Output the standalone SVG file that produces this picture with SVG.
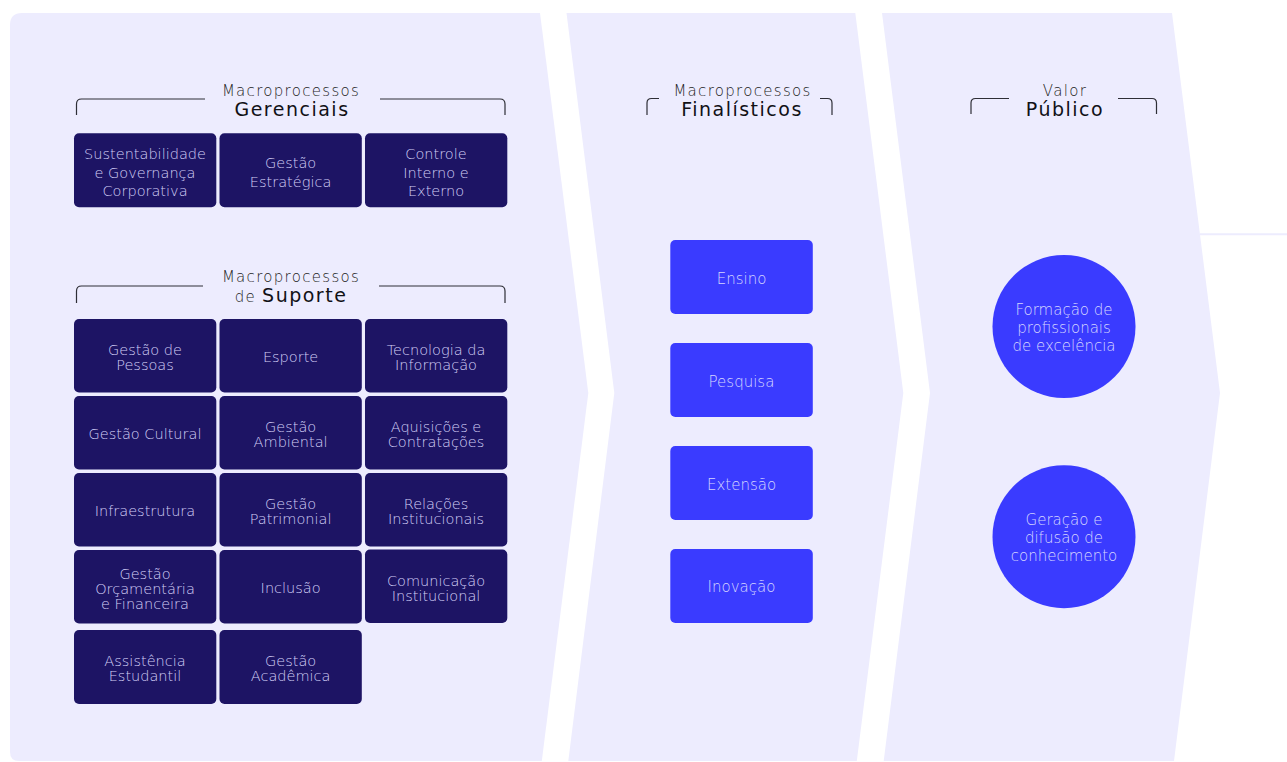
<svg xmlns="http://www.w3.org/2000/svg" width="1287" height="762" viewBox="0 0 1287 762">
  <style>
    .panel { fill: #EDECFE; }
    .bracket { fill: none; stroke: #2e2e36; stroke-width: 1.2; }
    .sub { font-family: "DejaVu Sans", "Liberation Sans", sans-serif; font-size: 15px; font-weight: 200; fill: #1e1e24; letter-spacing: 1.3px; text-anchor: middle; }
    .main { font-family: "DejaVu Sans", "Liberation Sans", sans-serif; font-size: 19px; font-weight: 400; fill: #111116; letter-spacing: 1.5px; text-anchor: middle; }
    .dark { fill: #1D1464; }
    .blue { fill: #3A3BFF; }
    .bt { font-family: "DejaVu Sans", "Liberation Sans", sans-serif; font-size: 14.5px; font-weight: 200; fill: #D2CEF6; text-anchor: middle; }
    .gt { font-size: 14.5px; }
    .wt { font-family: "DejaVu Sans", "Liberation Sans", sans-serif; font-size: 15px; font-weight: 200; fill: #D6D6FF; text-anchor: middle; }
  </style>

  <g id="background">
    <path class="panel" d="M 22,13 H 540 L 588.3,393 L 541.8,761 H 19 Q 10,761 10,752 V 25 Q 10,13 22,13 Z"/>
    <path class="panel" d="M 566.5,13 H 855.3 L 903.3,393 L 856.8,761 H 568.3 L 614.3,393 Z"/>
    <path class="panel" d="M 882,13 H 1172 L 1220,393 L 1174,761 H 883.7 L 930,393 Z"/>
    <line x1="1200" y1="234.3" x2="1287" y2="234.3" stroke="#EDECFE" stroke-width="2"/>
  </g>

  <g id="header-gerenciais">
    <path class="bracket" d="M 76.5,115 V 104 Q 76.5,99 81.5,99 H 205"/>
    <path class="bracket" d="M 380,99 H 500 Q 505,99 505,104 V 115"/>
    <text class="sub" x="291" y="96">Macroprocessos</text>
    <text class="main" x="292" y="115.5">Gerenciais</text>
  </g>

  <g id="header-suporte">
    <path class="bracket" d="M 76.5,303 V 291 Q 76.5,286 81.5,286 H 203"/>
    <path class="bracket" d="M 379,286 H 500 Q 505,286 505,291 V 303"/>
    <text class="sub" x="291" y="282">Macroprocessos</text>
    <text class="main" x="291" y="302.3"><tspan style="font-size:15px;font-weight:200;fill:#1e1e24;letter-spacing:1.3px">de </tspan>Suporte</text>
  </g>

  <g id="header-finalisticos">
    <path class="bracket" d="M 647,115 V 103 Q 647,98.5 651.5,98.5 H 659"/>
    <path class="bracket" d="M 820,98.5 H 827.5 Q 832,98.5 832,103 V 115"/>
    <text class="sub" x="742.5" y="96">Macroprocessos</text>
    <text class="main" x="742" y="115.5">Finalísticos</text>
  </g>

  <g id="header-valor">
    <path class="bracket" d="M 971,114 V 103 Q 971,98.5 975.5,98.5 H 1009"/>
    <path class="bracket" d="M 1118,98.5 H 1152 Q 1156.5,98.5 1156.5,103 V 114"/>
    <text class="sub" x="1065" y="96">Valor</text>
    <text class="main" x="1065" y="115.5">Público</text>
  </g>

  <!-- Gerenciais -->
  <g id="sustentabilidade">
    <rect class="dark" x="74" y="133.3" width="142.3" height="74" rx="5"/>
    <text class="bt gt" x="145" y="159.3">Sustentabilidade</text>
    <text class="bt gt" x="145" y="177.7">e Governança</text>
    <text class="bt gt" x="145" y="196">Corporativa</text>
  </g>
  <g id="gestao-estrategica">
    <rect class="dark" x="219.5" y="133.3" width="142.3" height="74" rx="5"/>
    <text class="bt gt" x="290.6" y="168.3">Gestão</text>
    <text class="bt gt" x="290.6" y="186.7">Estratégica</text>
  </g>
  <g id="controle">
    <rect class="dark" x="365" y="133.3" width="142.3" height="74" rx="5"/>
    <text class="bt gt" x="436" y="159.3">Controle</text>
    <text class="bt gt" x="436" y="177.7">Interno e</text>
    <text class="bt gt" x="436" y="196">Externo</text>
  </g>

  <!-- Suporte row 1 -->
  <g id="gestao-pessoas">
    <rect class="dark" x="74" y="319" width="142.3" height="73.5" rx="5"/>
    <text class="bt" x="145" y="355">Gestão de</text>
    <text class="bt" x="145" y="370">Pessoas</text>
  </g>
  <g id="esporte">
    <rect class="dark" x="219.5" y="319" width="142.3" height="73.5" rx="5"/>
    <text class="bt" x="290.6" y="361.5">Esporte</text>
  </g>
  <g id="tecnologia">
    <rect class="dark" x="365" y="319" width="142.3" height="73.5" rx="5"/>
    <text class="bt" x="436" y="355">Tecnologia da</text>
    <text class="bt" x="436" y="370">Informação</text>
  </g>

  <!-- Suporte row 2 -->
  <g id="gestao-cultural">
    <rect class="dark" x="74" y="396" width="142.3" height="73.5" rx="5"/>
    <text class="bt" x="145" y="438.5">Gestão Cultural</text>
  </g>
  <g id="gestao-ambiental">
    <rect class="dark" x="219.5" y="396" width="142.3" height="73.5" rx="5"/>
    <text class="bt" x="290.6" y="432">Gestão</text>
    <text class="bt" x="290.6" y="447">Ambiental</text>
  </g>
  <g id="aquisicoes">
    <rect class="dark" x="365" y="396" width="142.3" height="73.5" rx="5"/>
    <text class="bt" x="436" y="432">Aquisições e</text>
    <text class="bt" x="436" y="447">Contratações</text>
  </g>

  <!-- Suporte row 3 -->
  <g id="infraestrutura">
    <rect class="dark" x="74" y="473" width="142.3" height="73.5" rx="5"/>
    <text class="bt" x="145" y="515.5">Infraestrutura</text>
  </g>
  <g id="gestao-patrimonial">
    <rect class="dark" x="219.5" y="473" width="142.3" height="73.5" rx="5"/>
    <text class="bt" x="290.6" y="509">Gestão</text>
    <text class="bt" x="290.6" y="524">Patrimonial</text>
  </g>
  <g id="relacoes">
    <rect class="dark" x="365" y="473" width="142.3" height="73.5" rx="5"/>
    <text class="bt" x="436" y="509">Relações</text>
    <text class="bt" x="436" y="524">Institucionais</text>
  </g>

  <!-- Suporte row 4 -->
  <g id="orcamentaria">
    <rect class="dark" x="74" y="550" width="142.3" height="73.5" rx="5"/>
    <text class="bt" x="145" y="579">Gestão</text>
    <text class="bt" x="145" y="594">Orçamentária</text>
    <text class="bt" x="145" y="609">e Financeira</text>
  </g>
  <g id="inclusao">
    <rect class="dark" x="219.5" y="550" width="142.3" height="73.5" rx="5"/>
    <text class="bt" x="290.6" y="592.5">Inclusão</text>
  </g>
  <g id="comunicacao">
    <rect class="dark" x="365" y="549.5" width="142.3" height="73.5" rx="5"/>
    <text class="bt" x="436" y="586">Comunicação</text>
    <text class="bt" x="436" y="601">Institucional</text>
  </g>

  <!-- Suporte row 5 -->
  <g id="assistencia">
    <rect class="dark" x="74" y="630" width="142.3" height="74" rx="5"/>
    <text class="bt" x="145" y="666">Assistência</text>
    <text class="bt" x="145" y="681">Estudantil</text>
  </g>
  <g id="gestao-academica">
    <rect class="dark" x="219.5" y="630" width="142.3" height="74" rx="5"/>
    <text class="bt" x="290.6" y="666">Gestão</text>
    <text class="bt" x="290.6" y="681">Acadêmica</text>
  </g>

  <!-- Finalísticos -->
  <g id="ensino">
    <rect class="blue" x="670.3" y="240" width="142.5" height="74" rx="5"/>
    <text class="wt" x="741.5" y="283.5">Ensino</text>
  </g>
  <g id="pesquisa">
    <rect class="blue" x="670.3" y="343" width="142.5" height="74" rx="5"/>
    <text class="wt" x="741.5" y="386.5">Pesquisa</text>
  </g>
  <g id="extensao">
    <rect class="blue" x="670.3" y="446" width="142.5" height="74" rx="5"/>
    <text class="wt" x="741.5" y="489.5">Extensão</text>
  </g>
  <g id="inovacao">
    <rect class="blue" x="670.3" y="549" width="142.5" height="74" rx="5"/>
    <text class="wt" x="741.5" y="592">Inovação</text>
  </g>

  <!-- Valor Público -->
  <g id="formacao">
    <circle class="blue" cx="1064" cy="326.5" r="71.5"/>
    <text class="wt" x="1064" y="315">Formação de</text>
    <text class="wt" x="1064" y="333">profissionais</text>
    <text class="wt" x="1064" y="351">de excelência</text>
  </g>
  <g id="geracao">
    <circle class="blue" cx="1064" cy="536.7" r="71.5"/>
    <text class="wt" x="1064" y="525">Geração e</text>
    <text class="wt" x="1064" y="543.3">difusão de</text>
    <text class="wt" x="1064" y="561">conhecimento</text>
  </g>

  <g id="connectors"></g>
</svg>
